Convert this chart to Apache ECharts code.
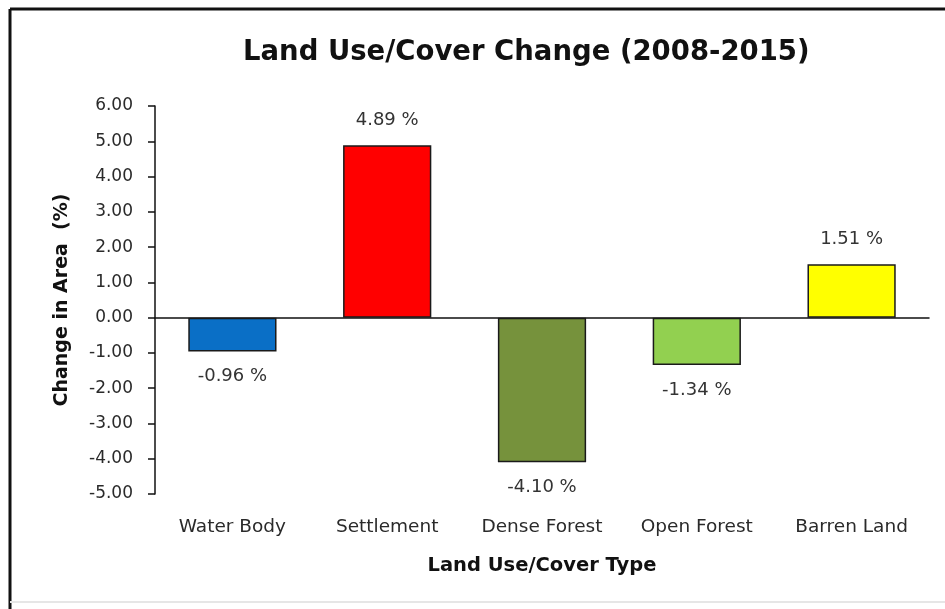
<!DOCTYPE html>
<html>
<head>
<meta charset="utf-8">
<script src="https://cdn.jsdelivr.net/npm/echarts@6/dist/echarts.min.js"></script>
<style>
html,body{margin:0;padding:0;background:#fff;}
#chart{width:945px;height:609px;}
</style>
</head>
<body>
<div id="chart"></div>
<script>
const categories = ['Water Body', 'Settlement', 'Dense Forest', 'Open Forest', 'Barren Land'];
const values = [-0.96, 4.89, -4.10, -1.34, 1.51];
const barColors = ['#0a6fc6', '#ff0000', '#76923c', '#92d050', '#ffff00'];
const yTicks = { min: -5, max: 6, interval: 1 };
const titleText = 'Land Use/Cover Change (2008-2015)';

const fontFam = '"DejaVu Sans", sans-serif';
const titleSize = 27.5;
const mctx = document.createElement('canvas').getContext('2d');
mctx.font = 'bold ' + titleSize + 'px "DejaVu Sans"';
const titleW = mctx.measureText(titleText).width;

const chart = echarts.init(document.getElementById('chart'), null, { renderer: 'canvas' });
chart.setOption({
  backgroundColor: '#ffffff',
  animation: false,
  title: {
    text: titleText,
    left: Math.round(526 - titleW / 2),
    top: 39,
    padding: 0,
    textStyle: { fontFamily: fontFam, fontSize: titleSize, fontWeight: 'bold', color: '#111' }
  },
  graphic: [
    { type: 'line', shape: { x1: 10, y1: 9, x2: 945, y2: 9 }, style: { stroke: '#111', lineWidth: 3 } },
    { type: 'line', shape: { x1: 10, y1: 9, x2: 10, y2: 609 }, style: { stroke: '#111', lineWidth: 3 } },
    { type: 'line', shape: { x1: 10, y1: 602, x2: 945, y2: 602 }, style: { stroke: '#e6e6e6', lineWidth: 2 } }
  ],
  grid: { left: 155, right: 16, top: 106, bottom: 115, containLabel: false },
  xAxis: [
    {
      type: 'category',
      data: categories,
      position: 'bottom',
      axisLine: { show: false, onZero: false },
      axisTick: { show: false },
      axisLabel: { interval: 0, hideOverlap: false, fontFamily: fontFam, fontSize: 18.5, color: '#2a2a2a', margin: 24 },
      name: 'Land Use/Cover Type',
      nameLocation: 'middle',
      nameGap: 62,
      nameTextStyle: { fontFamily: fontFam, fontSize: 19.5, fontWeight: 'bold', color: '#111' }
    },
    {
      type: 'category',
      data: categories,
      position: 'bottom',
      axisLine: { show: true, onZero: true, lineStyle: { color: '#111', width: 1.5 } },
      axisTick: { show: false },
      axisLabel: { show: false }
    }
  ],
  yAxis: {
    type: 'value',
    min: yTicks.min,
    max: yTicks.max,
    interval: yTicks.interval,
    axisLine: { show: true, lineStyle: { color: '#111', width: 1.5 } },
    axisTick: { show: true, length: 7, lineStyle: { color: '#111', width: 1.5 } },
    splitLine: { show: false },
    axisLabel: {
      fontFamily: fontFam, fontSize: 17, color: '#2a2a2a', margin: 22,
      formatter: v => v.toFixed(2)
    },
    name: 'Change in Area  (%)',
    nameLocation: 'middle',
    nameGap: 83,
    nameTextStyle: { fontFamily: fontFam, fontSize: 19, fontWeight: 'bold', color: '#111' }
  },
  series: [{
    type: 'bar',
    xAxisIndex: 0,
    data: values.map((v, i) => ({
      value: v,
      itemStyle: { color: barColors[i] },
      label: { position: v >= 0 ? 'top' : 'bottom' }
    })),
    barWidth: '57%',
    itemStyle: { borderColor: '#1a1a1a', borderWidth: 1.5 },
    label: {
      show: true,
      distance: 16,
      fontFamily: fontFam,
      fontSize: 18,
      color: '#333',
      formatter: p => p.value.toFixed(2) + ' %'
    }
  }]
});
</script>
</body>
</html>
